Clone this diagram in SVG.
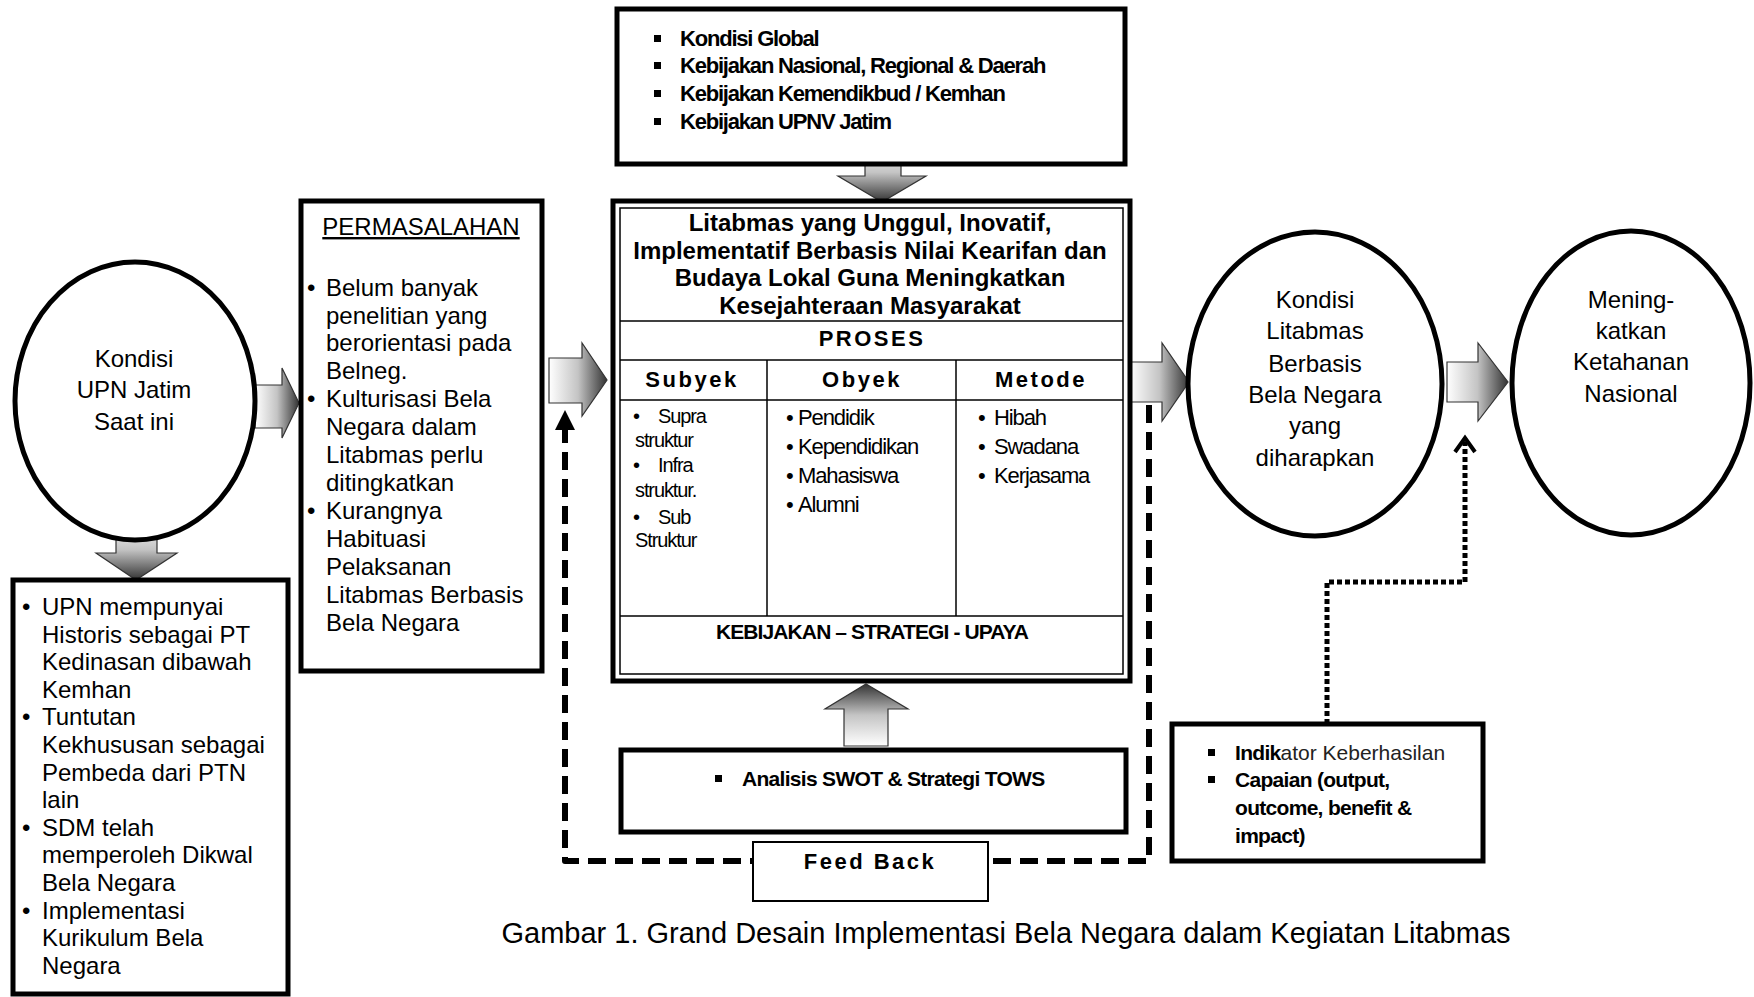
<svg xmlns="http://www.w3.org/2000/svg" width="1754" height="997" viewBox="0 0 1754 997">
<defs>
<linearGradient id="gR" x1="0" y1="0" x2="1" y2="0"><stop offset="0" stop-color="#ffffff"/><stop offset="0.5" stop-color="#c4c4c4"/><stop offset="1" stop-color="#333333"/></linearGradient>
<linearGradient id="gD" x1="0" y1="0" x2="0" y2="1"><stop offset="0" stop-color="#ffffff"/><stop offset="0.5" stop-color="#c4c4c4"/><stop offset="1" stop-color="#333333"/></linearGradient>
<linearGradient id="gU" x1="0" y1="1" x2="0" y2="0"><stop offset="0" stop-color="#ffffff"/><stop offset="0.5" stop-color="#c4c4c4"/><stop offset="1" stop-color="#333333"/></linearGradient>
</defs>
<style>
text{font-family:"Liberation Sans",Arial,sans-serif;fill:#000}
.box{fill:#fff;stroke:#000;stroke-width:5}
.thin{fill:none;stroke:#000;stroke-width:1.5}
.ell{fill:#fff;stroke:#000;stroke-width:5}
.t24{font-size:24px}
.c24{font-size:24px;text-anchor:middle}
.bc{font-size:22px;font-weight:bold;letter-spacing:-1.2px}
.bn{font-size:21px;font-weight:bold;letter-spacing:-0.7px}
.title{font-size:24px;font-weight:bold;text-anchor:middle}
.hdr{font-size:22px;font-weight:bold;text-anchor:middle;letter-spacing:2.5px}
.it{font-size:22px;letter-spacing:-1.1px}
.its{font-size:20px;letter-spacing:-1.1px}
.arR{fill:url(#gR);stroke:#333;stroke-width:1.2}
.arD{fill:url(#gD);stroke:#333;stroke-width:1.2}
.arU{fill:url(#gU);stroke:#333;stroke-width:1.2}
.sq{fill:#000}
</style>

<g id="connectors">
<path d="M255,385 L282,385 L282,368 L299,403 L282,438 L282,428 L255,428 Z" class="arR"/>
<path d="M116,519 L157,519 L157,553 L177,553 L136,580 L96,553 L116,553 Z" class="arD"/>
<path d="M865,143 L901,143 L901,176 L926,176 L882,202 L838,176 L865,176 Z" class="arD"/>
<path d="M549,358 L582,358 L582,343 L607,380 L582,416 L582,403 L549,403 Z" class="arR"/>
<path d="M1130,362 L1162,362 L1162,343 L1189,382 L1162,421 L1162,402 L1130,402 Z" class="arR"/>
<path d="M1447,362 L1478,362 L1478,343 L1508,382 L1478,421 L1478,402 L1447,402 Z" class="arR"/>
<path d="M844,746 L888,746 L888,709 L908,709 L866,684 L825,709 L844,709 Z" class="arU"/>
<path d="M1149,405 L1149,861 L565,861 L565,428" fill="none" stroke="#000" stroke-width="6" stroke-dasharray="18 9" stroke-linejoin="round"/>
<path d="M565,410 L555,430 L575,430 Z" fill="#000"/>
<path d="M1327,724 L1327,582 L1465,582 L1465,442" fill="none" stroke="#000" stroke-width="5" stroke-dasharray="5 3"/>
<path d="M1455,452 L1465,438 L1475,452" fill="none" stroke="#000" stroke-width="4"/>
</g>

<g id="kondisi-upn">
<ellipse cx="135" cy="401" rx="120" ry="139" class="ell"/>
<text class="c24" x="134" y="367">Kondisi</text>
<text class="c24" x="134" y="398">UPN Jatim</text>
<text class="c24" x="134" y="430">Saat ini</text>
</g>

<g id="permasalahan">
<rect x="301" y="201" width="241" height="470" class="box"/>
<text class="c24" x="421" y="235" text-decoration="underline">PERMASALAHAN</text>
<g class="t24">
<text x="307" y="296">•</text><text x="326" y="296">Belum banyak</text>
<text x="326" y="324">penelitian yang</text>
<text x="326" y="351">berorientasi pada</text>
<text x="326" y="379">Belneg.</text>
<text x="307" y="407">•</text><text x="326" y="407">Kulturisasi Bela</text>
<text x="326" y="435">Negara dalam</text>
<text x="326" y="463">Litabmas perlu</text>
<text x="326" y="491">ditingkatkan</text>
<text x="307" y="519">•</text><text x="326" y="519">Kurangnya</text>
<text x="326" y="547">Habituasi</text>
<text x="326" y="575">Pelaksanan</text>
<text x="326" y="603">Litabmas Berbasis</text>
<text x="326" y="631">Bela Negara</text>
</g>
</g>

<g id="kondisi-detail">
<rect x="13" y="580" width="275" height="414" class="box"/>
<g class="t24">
<text x="22" y="615">•</text><text x="42" y="615">UPN mempunyai</text>
<text x="42" y="643">Historis sebagai PT</text>
<text x="42" y="670">Kedinasan dibawah</text>
<text x="42" y="698">Kemhan</text>
<text x="22" y="725">•</text><text x="42" y="725">Tuntutan</text>
<text x="42" y="753">Kekhususan sebagai</text>
<text x="42" y="781">Pembeda dari PTN</text>
<text x="42" y="808">lain</text>
<text x="22" y="836">•</text><text x="42" y="836">SDM telah</text>
<text x="42" y="863">memperoleh Dikwal</text>
<text x="42" y="891">Bela Negara</text>
<text x="22" y="919">•</text><text x="42" y="919">Implementasi</text>
<text x="42" y="946">Kurikulum Bela</text>
<text x="42" y="974">Negara</text>
</g>
</g>

<g id="kebijakan-luar">
<rect x="617" y="9" width="508" height="155" class="box"/>
<rect x="654" y="35" width="7" height="7" class="sq"/><text class="bc" x="680" y="46">Kondisi Global</text>
<rect x="654" y="62" width="7" height="7" class="sq"/><text class="bc" x="680" y="73">Kebijakan Nasional, Regional &amp; Daerah</text>
<rect x="654" y="90" width="7" height="7" class="sq"/><text class="bc" x="680" y="101">Kebijakan Kemendikbud / Kemhan</text>
<rect x="654" y="118" width="7" height="7" class="sq"/><text class="bc" x="680" y="129">Kebijakan UPNV Jatim</text>
</g>

<g id="litabmas">
<rect x="613" y="201" width="517" height="480" class="box"/>
<rect x="620" y="208" width="503" height="466" class="thin"/>
<text class="title" x="870" y="231">Litabmas yang Unggul, Inovatif,</text>
<text class="title" x="870" y="259">Implementatif Berbasis Nilai Kearifan dan</text>
<text class="title" x="870" y="286">Budaya Lokal Guna Meningkatkan</text>
<text class="title" x="870" y="314">Kesejahteraan Masyarakat</text>
<line x1="620" y1="321" x2="1123" y2="321" class="thin"/>
<text class="hdr" x="872" y="346">PROSES</text>
<line x1="620" y1="360" x2="1123" y2="360" class="thin"/>
<line x1="620" y1="400" x2="1123" y2="400" class="thin"/>
<line x1="620" y1="616" x2="1123" y2="616" class="thin"/>
<line x1="767" y1="360" x2="767" y2="616" class="thin"/>
<line x1="956" y1="360" x2="956" y2="616" class="thin"/>
<text class="hdr" x="692" y="387">Subyek</text>
<text class="hdr" x="862" y="387">Obyek</text>
<text class="hdr" x="1041" y="387">Metode</text>
<g class="its">
<text x="633" y="423">•</text><text x="658" y="423">Supra</text>
<text x="635" y="447">struktur</text>
<text x="633" y="472">•</text><text x="658" y="472">Infra</text>
<text x="635" y="497">struktur.</text>
<text x="633" y="524">•</text><text x="658" y="524">Sub</text>
<text x="635" y="547">Struktur</text>
</g>
<g class="it">
<text x="786" y="425">•</text><text x="798" y="425">Pendidik</text>
<text x="786" y="454">•</text><text x="798" y="454">Kependidikan</text>
<text x="786" y="483">•</text><text x="798" y="483">Mahasiswa</text>
<text x="786" y="512">•</text><text x="798" y="512">Alumni</text>
<text x="978" y="425">•</text><text x="994" y="425">Hibah</text>
<text x="978" y="454">•</text><text x="994" y="454">Swadana</text>
<text x="978" y="483">•</text><text x="994" y="483">Kerjasama</text>
</g>
<text class="bc" x="872" y="639" text-anchor="middle" style="font-size:21px;letter-spacing:-0.9px">KEBIJAKAN – STRATEGI - UPAYA</text>
</g>

<g id="kondisi-harapan">
<ellipse cx="1315" cy="384" rx="127" ry="152" class="ell"/>
<text class="c24" x="1315" y="308">Kondisi</text>
<text class="c24" x="1315" y="339">Litabmas</text>
<text class="c24" x="1315" y="372">Berbasis</text>
<text class="c24" x="1315" y="403">Bela Negara</text>
<text class="c24" x="1315" y="434">yang</text>
<text class="c24" x="1315" y="466">diharapkan</text>
</g>

<g id="ketahanan">
<ellipse cx="1631" cy="383" rx="119" ry="152" class="ell"/>
<text class="c24" x="1631" y="308">Mening-</text>
<text class="c24" x="1631" y="339">katkan</text>
<text class="c24" x="1631" y="370">Ketahanan</text>
<text class="c24" x="1631" y="402">Nasional</text>
</g>

<g id="indikator">
<rect x="1172" y="724" width="311" height="137" class="box"/>
<rect x="1208" y="749" width="7" height="7" class="sq"/><text class="bn" x="1235" y="760">Indik<tspan style="letter-spacing:0px;font-weight:normal" fill="#222">ator Keberhasilan</tspan></text>
<rect x="1208" y="776" width="7" height="7" class="sq"/><text class="bn" x="1235" y="787">Capaian (output,</text>
<text class="bn" x="1235" y="815">outcome, benefit &amp;</text>
<text class="bn" x="1235" y="843">impact)</text>
</g>

<g id="swot">
<rect x="621" y="750" width="505" height="82" class="box"/>
<rect x="715" y="775" width="7" height="7" class="sq"/><text class="bn" x="742" y="786">Analisis SWOT &amp; Strategi TOWS</text>
</g>

<g id="feedback">
<rect x="753" y="842" width="235" height="59" fill="#fff" stroke="#000" stroke-width="2"/>
<text x="870" y="869" text-anchor="middle" style="font-size:22px;font-weight:bold;letter-spacing:2.5px">Feed Back</text>
</g>

<text x="1006" y="943" text-anchor="middle" style="font-size:29px">Gambar 1. Grand Desain Implementasi Bela Negara dalam Kegiatan Litabmas</text>
</svg>
